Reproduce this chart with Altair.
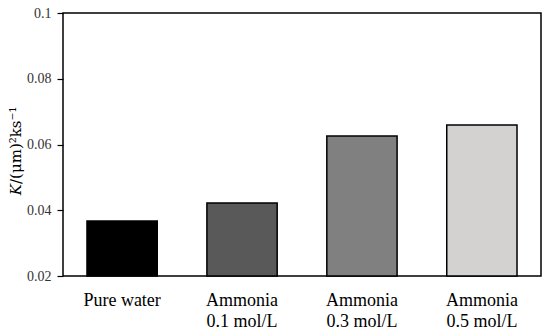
import altair as alt
import pandas as pd

categories = ["Pure water", "Ammonia|0.1 mol/L", "Ammonia|0.3 mol/L", "Ammonia|0.5 mol/L"]
values = [0.0367, 0.0422, 0.0626, 0.0659]
colors = ["#000000", "#595959", "#808080", "#d4d1d1"]
title_var = "K"
title_unit = " /(μm)²ks⁻¹"

df = pd.DataFrame({"cat": categories, "K": values})

font = "Liberation Serif"
title_font = "DejaVu Serif"

bars = alt.Chart(df).mark_bar(stroke="black", strokeWidth=1.5).encode(
    x=alt.X("cat:N", sort=categories,
            scale=alt.Scale(paddingInner=0.414, paddingOuter=0.2),
            axis=alt.Axis(title=None, labelAngle=0, ticks=False, domain=False,
                          labelExpr="split(datum.label, '|')",
                          labelFont=font, labelFontSize=18, labelColor="black",
                          labelPadding=15, labelLineHeight=21)),
    y=alt.Y("K:Q", scale=alt.Scale(domain=[0.02, 0.1], nice=False, clamp=True),
            axis=alt.Axis(title=None, values=[0.02, 0.04, 0.06, 0.08, 0.1],
                          format=".2~f", domain=False, grid=False,
                          tickColor="black", tickSize=6, tickWidth=1.2,
                          labelFont=font, labelFontSize=14, labelColor="#333333",
                          labelPadding=6)),
    color=alt.Color("cat:N", sort=categories,
                    scale=alt.Scale(domain=categories, range=colors), legend=None),
)

t_var = alt.Chart(pd.DataFrame({"t": [title_var]})).mark_text(
    angle=270, align="right", baseline="alphabetic", font=title_font, fontSize=15,
    fontStyle="italic", color="black"
).encode(text="t:N", x=alt.value(-42), y=alt.value(171))

t_unit = alt.Chart(pd.DataFrame({"t": [title_unit]})).mark_text(
    angle=270, align="left", baseline="alphabetic", font=title_font, fontSize=15,
    color="black"
).encode(text="t:N", x=alt.value(-42), y=alt.value(171))

chart = alt.layer(bars, t_var, t_unit).properties(
    width=478, height=263,
    autosize=alt.AutoSizeParams(type="none"),
    padding={"left": 55, "top": 5, "right": 1, "bottom": 53},
).configure_view(stroke="black", strokeWidth=1.5)

chart.save("out.html", embed_options={"renderer": "svg", "actions": False})
